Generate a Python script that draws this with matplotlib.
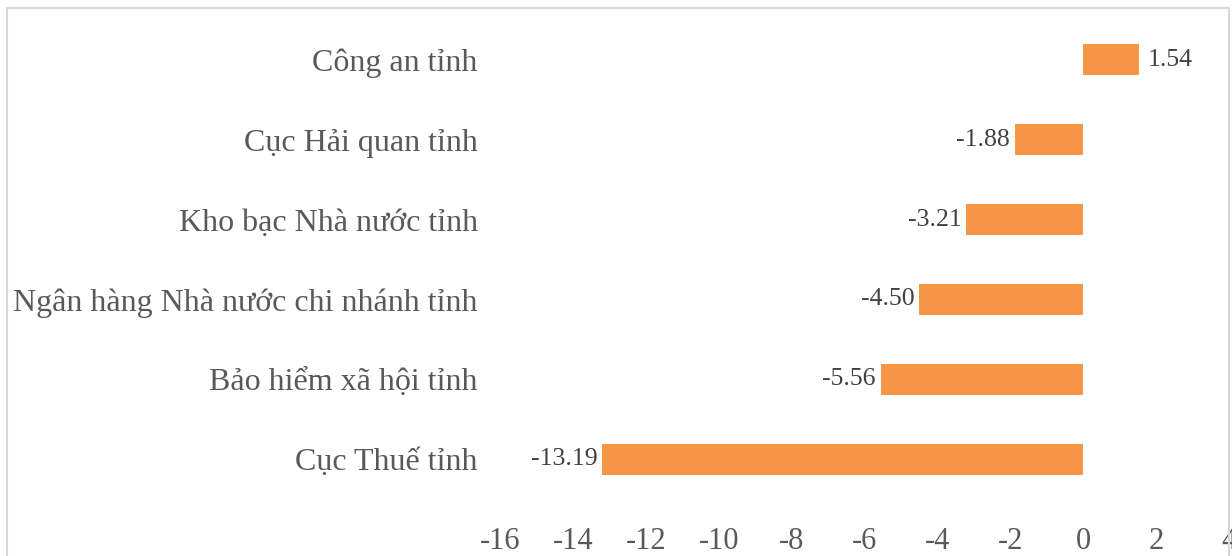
import matplotlib.pyplot as plt
from matplotlib.patches import Rectangle

plt.rc('font', family=['Liberation Serif', 'DejaVu Serif'])

categories = ['Cục Thuế tỉnh', 'Bảo hiểm xã hội tỉnh', 'Ngân hàng Nhà nước chi nhánh tỉnh',
              'Kho bạc Nhà nước tỉnh', 'Cục Hải quan tỉnh', 'Công an tỉnh']
values = [-13.19, -5.56, -4.50, -3.21, -1.88, 1.54]
xticks = list(range(-16, 5, 2))

bar_color = '#F79646'
text_color = '#595959'

fig = plt.figure(figsize=(12.32, 5.56), dpi=100)
ax = fig.add_axes([500/1232, 1 - 499/556, 729/1232, 479/556])

ypos = range(len(categories))
ax.barh(ypos, values, height=0.39, color=bar_color)

for y, v in zip(ypos, values):
    if v >= 0:
        ax.annotate(f'{v:.2f}', (v, y), xytext=(6, 0), textcoords='offset points',
                    ha='left', va='center', fontsize=18.5, color='#404040')
    else:
        ax.annotate(f'{v:.2f}', (v, y), xytext=(-3.5, 0), textcoords='offset points',
                    ha='right', va='center', fontsize=18.5, color='#404040')

ax.set_xlim(-16, 4)
ax.set_ylim(-0.5, len(categories) - 0.5)
ax.set_xticks(xticks)
ax.set_xticklabels([str(t) for t in xticks], fontsize=22, color=text_color)
ax.set_yticks(list(ypos))
ax.set_yticklabels(categories, fontsize=23, color=text_color)
ax.tick_params(axis='both', length=0)
ax.tick_params(axis='x', pad=20)
ax.tick_params(axis='y', pad=16)
for s in ax.spines.values():
    s.set_visible(False)

# light frame around the chart area
fig.patches.append(Rectangle((7/1232, -0.05), 1222/1232, 1.05 - 8/556,
                             transform=fig.transFigure, fill=False,
                             edgecolor='#D9D9D9', linewidth=1.5))

plt.savefig('out.png', dpi=100)
plt.close()
